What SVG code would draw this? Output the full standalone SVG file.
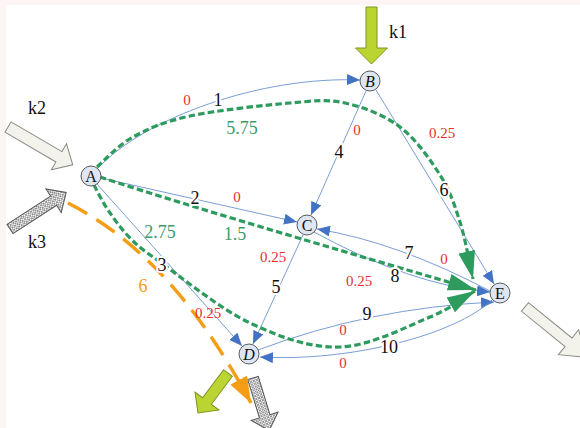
<svg xmlns="http://www.w3.org/2000/svg" width="580" height="428" viewBox="0 0 580 428">
<defs>
<style>
.e{fill:none;stroke:#6a93cf;stroke-width:0.9}
.g{fill:none;stroke:#2e9b5e;stroke-width:3.2;stroke-dasharray:6.5 3.2}
.o{fill:none;stroke:#f59d14;stroke-width:3.4;stroke-dasharray:22 11}
.n circle{fill:#dfe6f3;stroke:#5a5a5a;stroke-width:1}
text{font-family:"Liberation Serif","Times New Roman",serif}
.n text{font-size:16px;fill:#111;text-anchor:middle}
.lb{font-size:18px;fill:#111;text-anchor:middle;stroke:#fff;stroke-width:4;paint-order:stroke;stroke-linejoin:round}
.lr{font-size:15px;fill:#e8302a;text-anchor:middle}
.lg{font-size:18px;fill:#3b9b6c;text-anchor:middle}
.lo{font-size:18px;fill:#f39c12;text-anchor:middle}
.lk{font-size:18px;fill:#111;text-anchor:middle}
.yg{fill:#bcd432;stroke:#7d9422;stroke-width:1}
.wh{fill:#f3f3ec;stroke:#8a8a85;stroke-width:1}
.hx{fill:url(#hatch);stroke:#555;stroke-width:1}
</style>
<pattern id="hatch" patternUnits="userSpaceOnUse" width="3" height="3">
<rect width="3" height="3" fill="#fff"/>
<path d="M0,0 L3,3 M3,0 L0,3" stroke="#666" stroke-width="0.7"/>
</pattern>
<marker id="ab" markerUnits="userSpaceOnUse" viewBox="0 0 13 11" markerWidth="13" markerHeight="11" refX="13" refY="5.5" orient="auto">
<path d="M0,0 L13,5.5 L0,11 Z" fill="#4472c4"/>
</marker>
<marker id="ag" markerUnits="userSpaceOnUse" viewBox="0 0 28 17" markerWidth="28" markerHeight="17" refX="28" refY="8.5" orient="auto">
<path d="M0,0 L28,8.5 L0,17 Z" fill="#2e9b5e"/>
</marker>
<marker id="ao" markerUnits="userSpaceOnUse" viewBox="0 0 26 19" markerWidth="26" markerHeight="19" refX="26" refY="9.5" orient="auto">
<path d="M0,0 L26,9.5 L0,19 Z" fill="#f59d14"/>
</marker>
</defs>
<rect width="580" height="428" fill="#fcf5f3"/>
<rect x="6" y="5" width="574" height="423" fill="#fff"/>

<g id="inputs">
<path class="yg" transform="translate(371.5,7) rotate(90)" d="M0,-5.5 L41,-5.5 L41,-16 L57,0 L41,16 L41,5.5 L0,5.5 Z"/>
<path class="wh" transform="translate(8,127) rotate(30.3)" d="M0,-6 L59,-6 L59,-15 L75,0 L59,15 L59,6 L0,6 Z"/>
<path class="hx" transform="translate(10,229) rotate(-33)" d="M0,-5.5 L52,-5.5 L52,-14 L67,0 L52,14 L52,5.5 L0,5.5 Z"/>
<path class="yg" transform="translate(228,373) rotate(126.87)" d="M0,-5.5 L35,-5.5 L35,-15 L50,0 L35,15 L35,5.5 L0,5.5 Z"/>
<path class="hx" transform="translate(253,378) rotate(73)" d="M0,-5.5 L40,-5.5 L40,-14 L55,0 L40,14 L40,5.5 L0,5.5 Z"/>
<path class="wh" transform="translate(525,307) rotate(39)" d="M0,-5.5 L56,-5.5 L56,-16 L80,0 L56,16 L56,5.5 L0,5.5 Z"/>
<text class="lk" x="398" y="38">k1</text>
<text class="lk" x="37" y="114">k2</text>
<text class="lk" x="37" y="248">k3</text>
</g>

<g id="connectors">
<path class="e" marker-end="url(#ab)" d="M98,168 C145,118 260,76 360,80"/>
<path class="e" marker-end="url(#ab)" d="M101,178 L297,222"/>
<path class="e" marker-end="url(#ab)" d="M97,184 L242,346"/>
<path class="e" marker-end="url(#ab)" d="M366,91 L311,215"/>
<path class="e" marker-end="url(#ab)" d="M303,235 L253,344"/>
<path class="e" marker-end="url(#ab)" d="M376,90 L494,284"/>
<path class="e" marker-end="url(#ab)" d="M490,291 Q397,242 317,229"/>
<path class="e" marker-end="url(#ab)" d="M314,232 Q411,285 490,292"/>
<path class="e" marker-end="url(#ab)" d="M258,350 Q369,308 494,302"/>
<path class="e" marker-end="url(#ab)" d="M492,300 C455,335 350,362 260,357"/>

<path class="g" marker-end="url(#ag)" d="M97,167 C103,162 117.5,145.5 133,137 C148.5,128.5 163.8,121.7 190,116 C216.2,110.3 264.2,105.2 290,103 C315.8,100.8 326.7,99 345,103 C363.3,107 384.2,115 400,127 C415.8,139 430,159.2 440,175 C450,190.8 454.5,204.7 460,222 C465.5,239.3 470.8,269.5 473,279"/>
<path class="g" marker-end="url(#ag)" d="M100,177 C200,210 380,262 476,290"/>
<path class="g" marker-end="url(#ag)" d="M94,185 C96.3,189.2 102,201.2 108,210 C114,218.8 121.3,229.3 130,238 C138.7,246.7 140,247.8 160,262 C180,276.2 220,308.8 250,323 C280,337.2 310,348 340,347 C370,346 407.5,326.3 430,317 C452.5,307.7 467.5,295.3 475,291"/>
<path class="o" marker-end="url(#ao)" d="M68,203 C130,235 190,290 251,403"/>
</g>

<g id="labels">
<text class="lb" x="218" y="106">1</text>
<text class="lb" x="195" y="204">2</text>
<text class="lb" x="162" y="271">3</text>
<text class="lb" x="339" y="158">4</text>
<text class="lb" x="276" y="293">5</text>
<text class="lb" x="444" y="196">6</text>
<text class="lb" x="409" y="259">7</text>
<text class="lb" x="395" y="282">8</text>
<text class="lb" x="367" y="320">9</text>
<text class="lb" x="389" y="353">10</text>
<text class="lr" x="187" y="105">0</text>
<text class="lr" x="237" y="202">0</text>
<text class="lr" x="357" y="135">0</text>
<text class="lr" x="442" y="138">0.25</text>
<text class="lr" x="273" y="262">0.25</text>
<text class="lr" x="444" y="264">0</text>
<text class="lr" x="359" y="286">0.25</text>
<text class="lr" x="208" y="318">0.25</text>
<text class="lr" x="343" y="335">0</text>
<text class="lr" x="343" y="368">0</text>
<text class="lg" x="242" y="134">5.75</text>
<text class="lg" x="160" y="238">2.75</text>
<text class="lg" x="235" y="240">1.5</text>
<text class="lo" x="143" y="292">6</text>
</g>

<g id="A" class="n"><circle cx="91" cy="176" r="10"/><text x="91" y="182">A</text></g>
<g id="B" class="n"><circle cx="370" cy="81" r="10"/><text x="370" y="87" font-style="italic">B</text></g>
<g id="C" class="n"><circle cx="307" cy="225" r="10"/><text x="307" y="231">C</text></g>
<g id="D" class="n"><circle cx="249" cy="354" r="10"/><text x="249" y="360" font-style="italic">D</text></g>
<g id="E" class="n"><circle cx="500" cy="293" r="10"/><text x="500" y="299">E</text></g>
</svg>
